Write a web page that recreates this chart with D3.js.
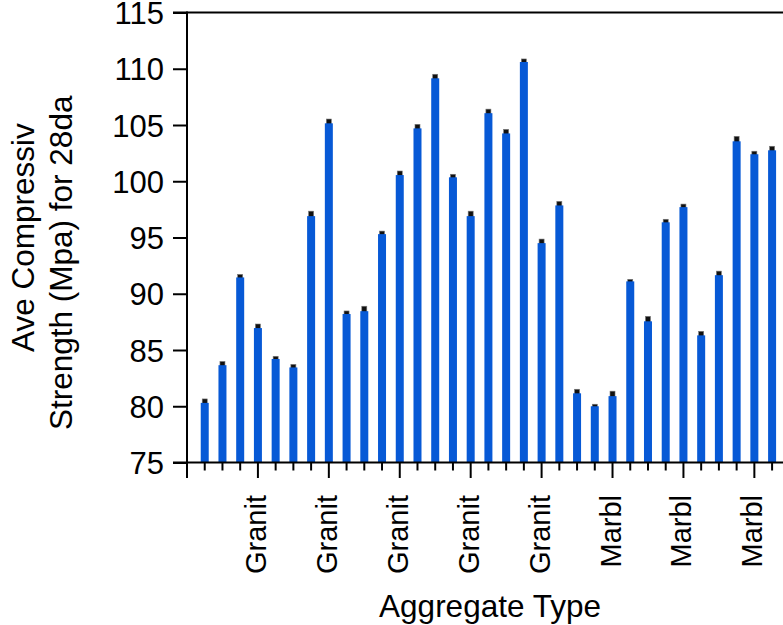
<!DOCTYPE html>
<html>
<head>
<meta charset="utf-8">
<script src="https://cdn.jsdelivr.net/npm/d3@7"></script>
<style>
  html, body { margin: 0; padding: 0; background: #fff; }
  svg { display: block; }
  text { font-family: "Liberation Sans", Arial, sans-serif; fill: #000; }
</style>
</head>
<body>
<svg id="chart" width="783" height="625"></svg>
<script>
// Aggregate type for each sample (1-based position on the axis)
const aggregateTypes = [
  "Granit","Granit","Granit","Granit","Granit","Granit","Granit","Granit",
  "Granit","Granit","Granit","Granit","Granit","Granit","Granit","Granit",
  "Granit","Granit","Granit","Granit","Granit",
  "Marbl","Marbl","Marbl","Marbl","Marbl","Marbl","Marbl","Marbl",
  "Marbl","Marbl","Marbl","Marbl"
];
// Average 28-day compressive strength (MPa)
const strengthMean = [
  80.3, 83.65, 91.45, 86.95, 84.2, 83.45, 96.9, 105.15, 88.2, 88.45,
  95.3, 100.55, 104.7, 109.15, 100.35, 96.9, 106.05, 104.25, 110.6, 94.5,
  97.85, 81.15, 80.0, 80.9, 91.1, 87.55, 96.35, 97.7, 86.3, 91.65,
  103.55, 102.4, 102.75
];
// Standard error of each mean (MPa)
const strengthErr = [
  0.35, 0.33, 0.27, 0.36, 0.24, 0.27, 0.44, 0.38, 0.27, 0.44,
  0.27, 0.36, 0.36, 0.36, 0.27, 0.44, 0.36, 0.36, 0.27, 0.36,
  0.36, 0.36, 0.18, 0.44, 0.18, 0.44, 0.27, 0.27, 0.36, 0.36,
  0.44, 0.27, 0.36
];
const yTicks = [75, 80, 85, 90, 95, 100, 105, 110, 115];
const labelEvery = 4;

const W = 783, H = 625;
const plotLeft = 187, plotTop = 12.5, plotBottom = 462.5;
const step = 17.73;
const barW = 8;
const blue = "#0759d6";

const svg = d3.select("#chart");

const y = d3.scaleLinear().domain([75, 115]).range([plotBottom, plotTop]);
const n = strengthMean.length;
const x = d3.scaleLinear().domain([0, n]).range([plotLeft, plotLeft + step * n]);

const data = strengthMean.map((v, i) => ({ idx: i + 1, type: aggregateTypes[i], mean: v, err: strengthErr[i] }));

// error bars (drawn beneath the bars so only the upper whisker shows)
svg.append("g").selectAll("rect").data(data).join("rect")
  .attr("x", d => x(d.idx) - 2.5)
  .attr("width", 5)
  .attr("y", d => y(d.mean + d.err))
  .attr("height", d => y(d.mean - d.err) - y(d.mean + d.err))
  .attr("fill", "#111")
  .attr("stroke", "#777")
  .attr("stroke-width", 0.6);

// bars
svg.append("g").selectAll("rect").data(data).join("rect")
  .attr("x", d => x(d.idx) - barW / 2)
  .attr("width", barW)
  .attr("y", d => y(d.mean))
  .attr("height", d => y(75) - y(d.mean))
  .attr("fill", blue);

// y axis
const yAxis = d3.axisLeft(y).tickValues(yTicks).tickSize(14).tickPadding(9).tickFormat(d3.format("d"));
const gy = svg.append("g").attr("transform", `translate(${plotLeft},0)`).call(yAxis);
gy.select(".domain").remove();
gy.selectAll(".tick line").attr("stroke", "#000").attr("stroke-width", 2);
gy.selectAll(".tick text").attr("font-family", null).style("font-size", "31px").attr("dy", "0.36em");

// x axis ticks: every category, longer at labelled positions
const xIdx = d3.range(0, n + 1);
const gx = svg.append("g").attr("transform", `translate(0,${plotBottom})`);
gx.selectAll("line.t").data(xIdx).join("line")
  .attr("x1", d => x(d)).attr("x2", d => x(d))
  .attr("y1", 0).attr("y2", d => d % labelEvery === 0 ? 15.5 : 8)
  .attr("stroke", "#000").attr("stroke-width", 2);
gx.selectAll("text").data(data.filter(d => d.idx % labelEvery === 0)).join("text")
  .attr("transform", d => `translate(${x(d.idx) + 8},32.5) rotate(-90)`)
  .attr("text-anchor", "end")
  .style("font-size", "29px")
  .text(d => d.type);

// axis lines and top frame
svg.append("line").attr("x1", plotLeft).attr("x2", plotLeft).attr("y1", plotTop - 1).attr("y2", plotBottom + 15.5)
  .attr("stroke", "#000").attr("stroke-width", 2);
svg.append("line").attr("x1", plotLeft - 14).attr("x2", W).attr("y1", plotBottom).attr("y2", plotBottom)
  .attr("stroke", "#000").attr("stroke-width", 2);
svg.append("line").attr("x1", plotLeft - 14).attr("x2", W).attr("y1", plotTop).attr("y2", plotTop)
  .attr("stroke", "#000").attr("stroke-width", 2);

// axis titles
svg.append("text").attr("x", 490).attr("y", 617).attr("text-anchor", "middle")
  .style("font-size", "31.5px").text("Aggregate Type");
svg.append("text").attr("transform", `translate(34,${(plotTop + plotBottom) / 2}) rotate(-90)`)
  .attr("text-anchor", "middle").style("font-size", "31.5px").text("Ave Compressiv");
svg.append("text").attr("transform", `translate(72,430) rotate(-90)`)
  .attr("text-anchor", "start").style("font-size", "31.5px").text("Strength (Mpa) for 28da");
</script>
</body>
</html>
